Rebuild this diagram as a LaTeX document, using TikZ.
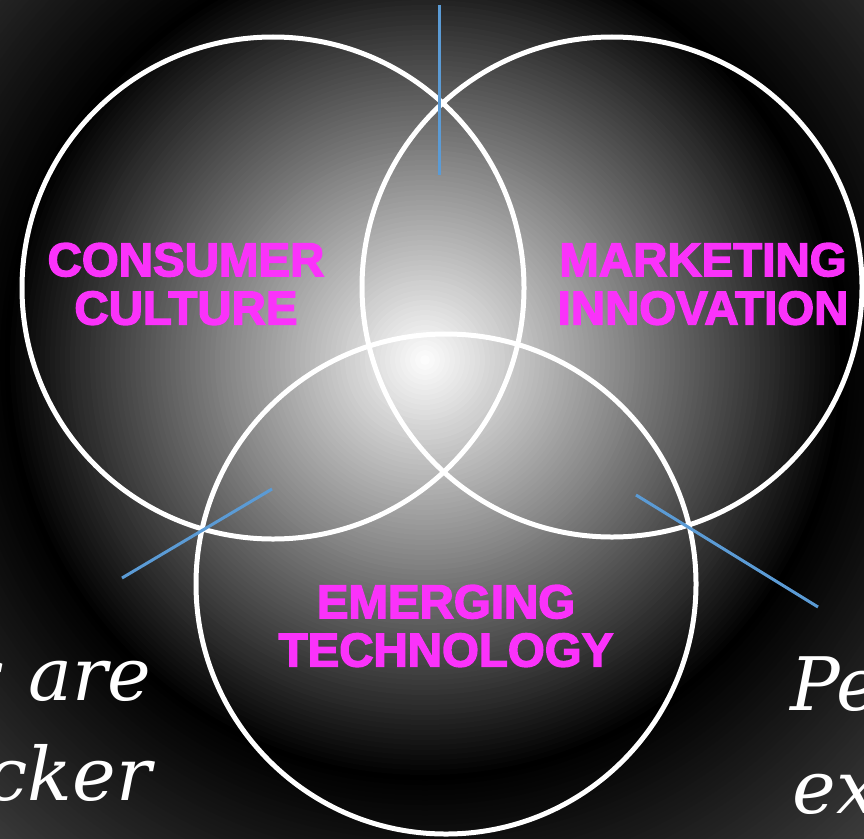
\documentclass[tikz,border=0pt]{standalone}
\usepackage{fontspec}
\newfontfamily\vennfont{Liberation Sans}[BoldFeatures={FakeBold=3}]
\newfontfamily\quotefont{DejaVu Serif}

\definecolor{vennpink}{RGB}{250,50,250}
\definecolor{pointerblue}{RGB}{91,155,213}

\tikzset{
  vennring/.style={draw=white, line width=0.1cm},
  vennlabel/.style={text=vennpink, inner sep=0pt, align=center,
    font=\vennfont\bfseries\fontsize{27}{27.5}\selectfont},
  sidequote/.style={text=white, inner sep=0pt,
    font=\quotefont\itshape\fontsize{42}{50}\selectfont},
  pointer/.style={draw=pointerblue, line width=0.06cm}
}

\begin{document}
\begin{tikzpicture}[x=0.02cm, y=-0.02cm]
  \useasboundingbox (0,0) rectangle (864,838);
  \clip (0,0) rectangle (864,838);
  % glowing backdrop
  \coordinate (glow) at (425,360);
  \fill[black!80] (0,0) rectangle (864,838);
  \foreach \d in {660,655,...,0} {
    \pgfmathsetmacro\p{\d>420 ? 100-(\d-420)*0.1 : \d/420*100}
    \fill[black!\p] (glow) circle[radius=\d];
  }

  % the three sets
  \draw[vennring] (273,288) circle[radius=251];
  \draw[vennring] (612,287) circle[radius=250];
  \draw[vennring] (446,584) circle[radius=250];

  \node[vennlabel] (consumer) at (186,284) {CONSUMER\\CULTURE};
  \node[vennlabel] (marketing) at (703,284) {MARKETING\\INNOVATION};
  \node[vennlabel] (emerging) at (446,626) {EMERGING\\TECHNOLOGY};

  % side texts, cut by the frame
  \node[sidequote, anchor=base east] (quoteL-1) at (152,700) {s are};
  \node[sidequote, anchor=base east] (quoteL-2) at (152,800) {cker};
  \node[sidequote, anchor=base west] (quoteR-1) at (790,710) {Pe};
  \node[sidequote, anchor=base west] (quoteR-2) at (792,813) {ex};

  % pointers
  \coordinate (top-a) at (439,5);
  \coordinate (top-b) at (439,175);
  \coordinate (left-a) at (122,578);
  \coordinate (left-b) at (272,489);
  \coordinate (right-a) at (636,495);
  \coordinate (right-b) at (818,607);
  \draw[pointer] (top-a) -- (top-b);
  \draw[pointer] (left-a) -- (left-b);
  \draw[pointer] (right-a) -- (right-b);
\end{tikzpicture}
\end{document}
